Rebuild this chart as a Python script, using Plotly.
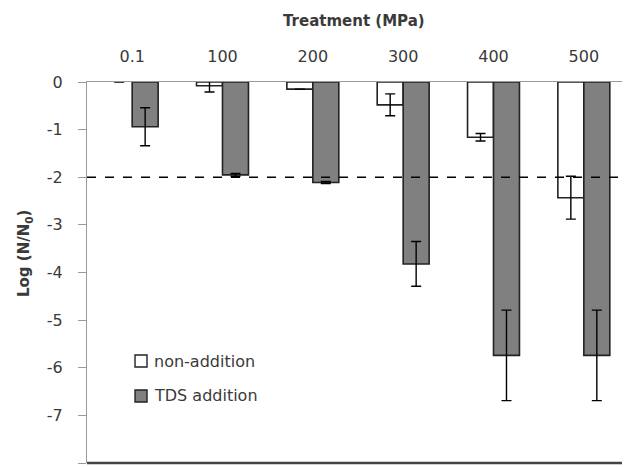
import plotly.graph_objects as go

categories = ["0.1", "100", "200", "300", "400", "500"]
non_addition = [0.0, -0.08, -0.15, -0.48, -1.16, -2.43]
non_addition_err = [None, 0.13, None, 0.23, 0.08, 0.45]
tds_addition = [-0.94, -1.95, -2.11, -3.82, -5.74, -5.74]
tds_addition_err = [0.40, 0.03, 0.02, 0.47, 0.95, 0.95]
series_names = ["non-addition", "TDS addition"]
series_fills = ["white", "#808080"]
y_ticks = [0, -1, -2, -3, -4, -5, -6, -7, -8]
y_tick_labels = ["0", "-1", "-2", "-3", "-4", "-5", "-6", "-7", "-8"]
threshold = -2

FONT = "DejaVu Sans"
TXT = "#3a3a3a"
EDGE = "#222222"

# The page body has an 8px default margin, so the figure is sized/offset to fit the window.
W, H = 622, 459
L, T = 79, 74
PW, PH = 542, 381

# zero-height bars get no outline (nothing is visible in the reference)
na_line_w = [0 if v == 0 else 1.6 for v in non_addition]

fig = go.Figure()
fig.add_trace(go.Bar(
    x=categories, y=non_addition, name=series_names[0], showlegend=False,
    marker=dict(color=series_fills[0], line=dict(color=EDGE, width=na_line_w)),
    error_y=dict(type="data", array=non_addition_err, color="black", thickness=1.4, width=5),
))
fig.add_trace(go.Bar(
    x=categories, y=tds_addition, name=series_names[1], showlegend=False,
    marker=dict(color=series_fills[1], line=dict(color=EDGE, width=1.6)),
    error_y=dict(type="data", array=tds_addition_err, color="black", thickness=1.4, width=5),
))

fig.add_shape(type="line", xref="paper", yref="y", x0=0, x1=1, y0=threshold, y1=threshold,
              line=dict(color="black", width=1.4, dash="dash"))
fig.add_shape(type="line", xref="paper", yref="paper", x0=0, x1=1, y0=0, y1=0,
              line=dict(color="#444444", width=2.5))
fig.add_shape(type="line", xref="paper", yref="paper", x0=1, x1=1, y0=0, y1=1,
              line=dict(color="#c8c8c8", width=1))

# legend (drawn as symbol squares + text)
leg_x0, leg_x1, leg_tx = 0.0886, 0.1107, 0.1199
leg_rows = [0.2677, 0.1759]
half = 6 / PH
for name, fill, yc in zip(series_names, series_fills, leg_rows):
    fig.add_shape(type="rect", xref="paper", yref="paper", x0=leg_x0, x1=leg_x1,
                  y0=yc - half, y1=yc + half, fillcolor=fill, line=dict(color=EDGE, width=1.4))
    fig.add_annotation(text=name, xref="paper", yref="paper", x=leg_tx, y=yc,
                       showarrow=False, xanchor="left", yanchor="middle",
                       font=dict(family=FONT, size=16, color=TXT))

fig.add_annotation(text="<b>Treatment (MPa)</b>", xref="paper", yref="paper",
                   x=0.4935, y=1.159, showarrow=False, xanchor="center", yanchor="middle",
                   font=dict(family=FONT, size=15, color=TXT))
fig.add_annotation(text="<b>Log (N/N<sub>0</sub>)</b>", xref="paper", yref="paper",
                   x=-0.114, y=0.549, showarrow=False, xanchor="center", yanchor="middle",
                   textangle=-90, font=dict(family=FONT, size=15, color=TXT))

fig.update_layout(
    width=W, height=H,
    margin=dict(l=L, r=W - L - PW, t=T, b=H - T - PH, autoexpand=False),
    plot_bgcolor="white", paper_bgcolor="white",
    barmode="group", bargap=0.425, bargroupgap=0,
    font=dict(family=FONT, size=16, color=TXT),
    showlegend=False,
    xaxis=dict(side="top", type="category", showline=True, linecolor="#999999", linewidth=1.2,
               showgrid=False, ticks="outside", ticklen=0, automargin=False,
               ticklabelstandoff=13,
               tickfont=dict(size=16, color=TXT)),
    yaxis=dict(range=[-8, 0], tickvals=y_ticks, ticktext=y_tick_labels,
               showline=True, linecolor="#999999", linewidth=1.2, automargin=False,
               showgrid=False, zeroline=False, ticks="outside", ticklen=8, tickcolor="#999999",
               ticklabelstandoff=12,
               tickfont=dict(size=16, color=TXT)),
)

fig.write_html("out.html")
